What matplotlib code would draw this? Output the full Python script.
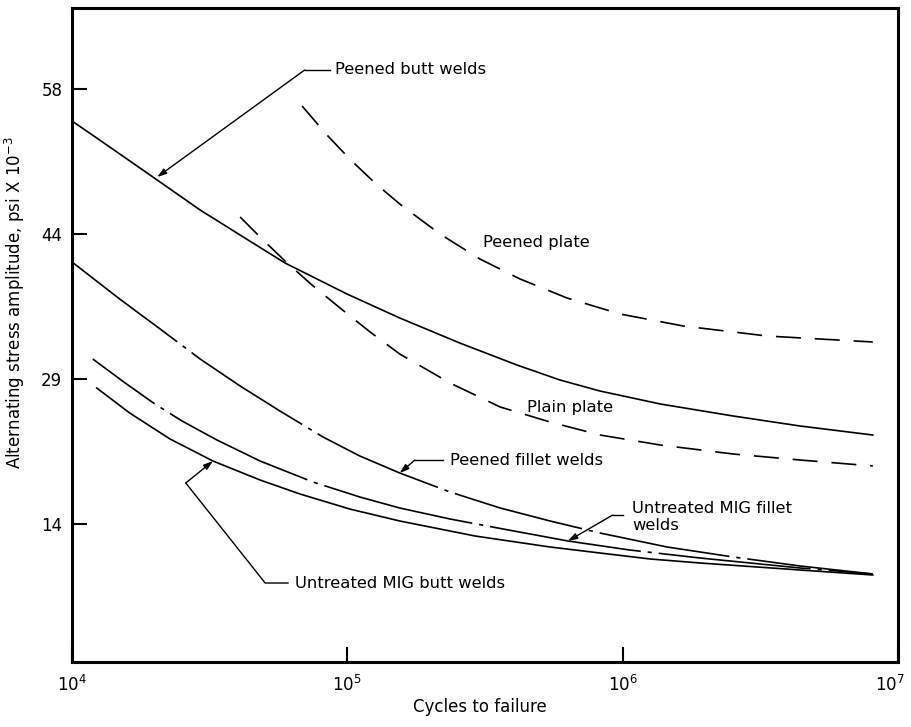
import matplotlib
matplotlib.use("Agg")
import matplotlib.pyplot as plt
from matplotlib.transforms import ScaledTranslation

plt.rcParams["font.family"] = ["DejaVu Sans"]
plt.rcParams["lines.scale_dashes"] = False

# S-N curves: cycles to failure vs alternating stress amplitude (ksi)
peened_butt_n = [1.0e4, 1.26e4, 1.92e4, 2.92e4, 4.36e4, 5.94e4, 9.97e4, 1.55e5,
                 2.56e5, 4.13e5, 5.92e5, 8.27e5, 1.37e6, 2.52e6, 4.41e6, 8.1e6]
peened_butt_s = [54.8, 52.9, 49.4, 45.9, 42.9, 40.6, 37.5, 35.1,
                 32.6, 30.4, 28.9, 27.8, 26.5, 25.3, 24.3, 23.4]

peened_plate_n = [6.85e4, 8.37e4, 1.02e5, 1.26e5, 1.55e5, 2.17e5, 3.03e5,
                  4.24e5, 6.28e5, 9.78e5, 1.66e6, 3.34e6, 8.1e6]
peened_plate_s = [56.3, 53.5, 51.0, 48.6, 46.5, 43.5, 41.0,
                  39.0, 37.1, 35.5, 34.3, 33.3, 32.7]

plain_plate_n = [4.08e4, 4.90e4, 5.94e4, 7.44e4, 9.41e4, 1.21e5, 1.55e5, 2.36e5,
                 3.59e5, 5.45e5, 8.27e5, 1.37e6, 2.52e6, 4.41e6, 8.1e6]
plain_plate_s = [45.2, 43.0, 40.8, 38.4, 36.1, 33.7, 31.5, 28.6,
                 26.2, 24.7, 23.4, 22.4, 21.5, 20.9, 20.3]

peened_fillet_n = [1.0e4, 1.49e4, 2.09e4, 2.92e4, 4.08e4, 5.69e4, 8.16e4, 1.11e5,
                   1.55e5, 2.36e5, 3.59e5, 5.45e5, 8.27e5, 1.45e6, 2.52e6,
                   4.41e6, 8.1e6]
peened_fillet_s = [40.7, 37.0, 34.0, 31.0, 28.3, 25.8, 23.2, 21.3,
                   19.6, 17.7, 16.1, 14.8, 13.6, 12.2, 11.2,
                   10.3, 9.5]

mig_fillet_n = [1.19e4, 1.56e4, 2.00e4, 2.51e4, 3.36e4, 4.82e4, 7.50e4, 1.11e5,
                1.55e5, 2.36e5, 3.68e5, 6.33e5, 1.06e6, 1.91e6, 4.41e6, 8.1e6]
mig_fillet_s = [31.0, 28.6, 26.5, 24.8, 22.9, 20.8, 18.7, 17.2,
                16.1, 15.0, 14.0, 12.8, 11.9, 11.1, 10.1, 9.5]

mig_butt_n = [1.23e4, 1.62e4, 2.27e4, 3.25e4, 4.82e4, 6.73e4, 1.02e5, 1.55e5,
              2.91e5, 5.45e5, 8.27e5, 1.26e6, 1.91e6, 4.41e6, 8.1e6]
mig_butt_s = [28.1, 25.6, 23.0, 20.8, 18.9, 17.5, 16.0, 14.8,
              13.3, 12.2, 11.6, 11.0, 10.6, 9.9, 9.4]

# stress ticks: 100..400 MPa expressed in ksi, labelled in rounded ksi
y_ticks = [14.5, 29.0, 43.5, 58.0]
y_tick_labels = ["14", "29", "44", "58"]
x_ticks = [1e4, 1e5, 1e6, 1e7]
x_tick_labels = [r"$10^{4}$", r"$10^{5}$", r"$10^{6}$", r"$10^{7}$"]

fig = plt.figure(figsize=(9.11, 7.27), dpi=100)
ax = fig.add_axes([72 / 911, 1 - 662 / 727, 826 / 911, 654 / 727])

lw = 1.2
ax.plot(peened_butt_n, peened_butt_s, color="k", lw=lw)
ax.plot(peened_plate_n, peened_plate_s, color="k", lw=lw, linestyle=(0, (18, 10)))
ax.plot(plain_plate_n, plain_plate_s, color="k", lw=lw, linestyle=(0, (18, 10)))
ax.plot(peened_fillet_n, peened_fillet_s, color="k", lw=lw,
        linestyle=(0, (95, 5, 3, 5)))
ax.plot(mig_fillet_n, mig_fillet_s, color="k", lw=lw,
        linestyle=(55, (110, 5, 3, 5)))
ax.plot(mig_butt_n, mig_butt_s, color="k", lw=lw)

ax.set_xscale("log")
ax.set_xlim(1e4, 1e7)
ax.set_ylim(0.7, 66.1)
ax.set_xticks(x_ticks)
ax.set_xticklabels(x_tick_labels)
ax.xaxis.set_minor_locator(matplotlib.ticker.NullLocator())
ax.set_yticks(y_ticks)
ax.set_yticklabels(y_tick_labels)
ax.tick_params(axis="both", direction="in", length=11, width=1.5,
               labelsize=12, top=False, right=False)
ax.tick_params(axis="x", pad=9)
ax.tick_params(axis="y", pad=7)
for sp in ax.spines.values():
    sp.set_linewidth(2.2)

# keep the right-most decade label inside the figure
last = ax.get_xticklabels()[-1]
last.set_transform(last.get_transform()
                   + ScaledTranslation(-0.08, 0, fig.dpi_scale_trans))

ax.set_xlabel("Cycles to failure", fontsize=12, va="center")
ax.xaxis.set_label_coords(0.494, -0.0688)
ax.set_ylabel(r"Alternating stress amplitude, psi X 10$^{-3}$", fontsize=12,
              va="center")
ax.yaxis.set_label_coords(-0.069, 0.549)

txt = dict(fontsize=11.8, color="k", va="center", ha="left")
arrow = dict(arrowstyle="-|>,head_length=0.55,head_width=0.18", color="k",
             lw=1.0, shrinkA=0, shrinkB=0)

# Peened butt welds
ax.text(9.0e4, 59.9, "Peened butt welds", **txt)
ax.plot([8.65e4, 7.0e4], [59.9, 59.9], color="k", lw=1.0)
ax.annotate("", xy=(2.04e4, 49.2), xytext=(7.0e4, 59.9), arrowprops=arrow)

# Plate curves
ax.text(3.11e5, 42.6, "Peened plate", **txt)
ax.text(4.50e5, 26.1, "Plain plate", **txt)

# Peened fillet welds
ax.text(2.36e5, 20.8, "Peened fillet welds", **txt)
ax.plot([2.22e5, 1.76e5], [20.9, 20.9], color="k", lw=1.0)
ax.annotate("", xy=(1.55e5, 19.6), xytext=(1.76e5, 20.9), arrowprops=arrow)

# Untreated MIG fillet welds
ax.text(1.08e6, 15.2, "Untreated MIG fillet\nwelds", linespacing=1.2, **txt)
ax.plot([1.00e6, 9.2e5], [15.4, 15.4], color="k", lw=1.0)
ax.annotate("", xy=(6.33e5, 12.8), xytext=(9.2e5, 15.4), arrowprops=arrow)

# Untreated MIG butt welds
ax.text(6.46e4, 8.6, "Untreated MIG butt welds", **txt)
ax.plot([6.09e4, 5.03e4, 2.59e4], [8.6, 8.6, 18.6], color="k", lw=1.0)
ax.annotate("", xy=(3.25e4, 20.8), xytext=(2.59e4, 18.6), arrowprops=arrow)

fig.savefig("out.png", dpi=100)
